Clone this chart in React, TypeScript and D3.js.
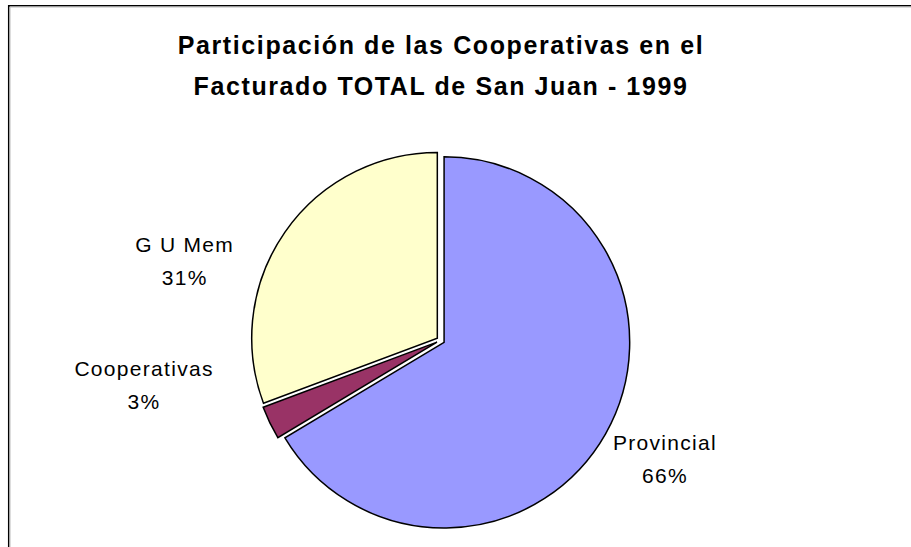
import React from "react";
import * as d3 from "d3";

const categories = ["Provincial", "Cooperativas", "G U Mem"];
const values = [66.4, 2.9, 30.7];
const pctLabels = ["66%", "3%", "31%"];
const colors = ["#9999FF", "#993366", "#FFFFCC"];
const titleLines = [
  "Participación de las Cooperativas en el",
  "Facturado TOTAL de San Juan - 1999",
];
// label placement (degrees clockwise from top, distance from pie centre)
const labelAngles = [119.2, 260.1, 285.8];
const labelRadii = [257, 301, 266];

const W = 911;
const H = 547;
const cx = 440.6;
const cy = 340.4;
const R = 185.6;
const explode = 4;

export default function App() {
  const pie = d3
    .pie<number>()
    .sort(null)
    .value((d) => d)
    .startAngle(0)
    .endAngle(2 * Math.PI);
  const arcs = pie(values);
  const arc = d3.arc<d3.PieArcDatum<number>>().innerRadius(0).outerRadius(R);
  const font = "'Liberation Sans', Arial, sans-serif";

  return (
    <svg
      width={W}
      height={H}
      style={{ position: "fixed", left: 0, top: 0, background: "#fff" }}
    >
      <rect x={0} y={0} width={W} height={H} fill="#fff" />
      <path d={`M8.7,${H} V5.7 H${W}`} fill="none" stroke="#000" strokeWidth={1.5} />
      <path d={`M10,${H} V7 H${W}`} fill="none" stroke="#bbb" strokeWidth={1} />
      <g fontFamily={font} fontWeight="bold" fontSize={25} textAnchor="middle" letterSpacing={1.6}>
        {titleLines.map((t, i) => (
          <text key={i} x={441} y={54 + i * 41}>
            {t}
          </text>
        ))}
      </g>
      <g transform={`translate(${cx},${cy})`}>
        {arcs.map((a, i) => {
          const mid = (a.startAngle + a.endAngle) / 2;
          const dx = explode * Math.sin(mid);
          const dy = -explode * Math.cos(mid);
          return (
            <path
              key={categories[i]}
              d={arc(a) || ""}
              transform={`translate(${dx},${dy})`}
              fill={colors[i]}
              stroke="#000"
              strokeWidth={1.5}
              strokeLinejoin="miter"
            />
          );
        })}
      </g>
      <g fontFamily={font} fontSize={21} textAnchor="middle" letterSpacing={1.3} fill="#000">
        {categories.map((c, i) => {
          const ang = (labelAngles[i] * Math.PI) / 180;
          const x = cx + labelRadii[i] * Math.sin(ang);
          const y = cy - labelRadii[i] * Math.cos(ang);
          return (
            <g key={c}>
              <text x={x} y={y - 16}>
                {c}
              </text>
              <text x={x} y={y + 17}>
                {pctLabels[i]}
              </text>
            </g>
          );
        })}
      </g>
    </svg>
  );
}
